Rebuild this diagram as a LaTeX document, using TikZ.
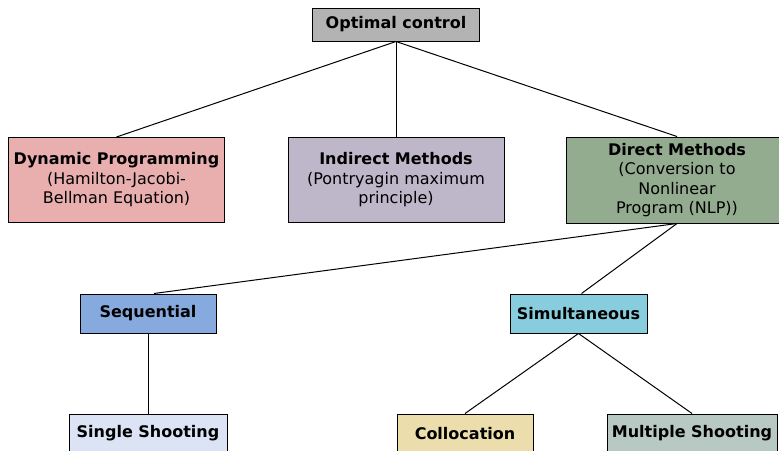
\documentclass[tikz,border=0pt]{standalone}
\usepackage{fontspec}
\setmainfont{DejaVu Sans}
\usetikzlibrary{calc}
\definecolor{rootgray}{HTML}{B3B3B3}
\definecolor{dpred}{HTML}{E9AFAF}
\definecolor{indlilac}{HTML}{BEB7CA}
\definecolor{dirgreen}{HTML}{93AC8F}
\definecolor{seqblue}{HTML}{87AADE}
\definecolor{simcyan}{HTML}{87CDDE}
\definecolor{ssblue}{HTML}{DBE3F4}
\definecolor{colbeige}{HTML}{EBDDAC}
\definecolor{msgray}{HTML}{B8C8C2}
\tikzset{
  treenode/.style={
    rectangle, draw=black, line width=1pt, inner sep=0pt,
    align=center, font=\fontsize{16}{19.5}\selectfont
  },
  bignode/.style={treenode, minimum width=216pt, minimum height=85pt},
  smallnode/.style={treenode, minimum width=136pt, minimum height=39pt},
  branch/.style={line width=1pt}
}

\begin{document}
\begin{tikzpicture}[x=1pt, y=-1pt]
    \useasboundingbox (0,0) rectangle (779,450);
    \clip (0,0) rectangle (779,450);
    % top level
    \node[treenode, fill=rootgray, minimum width=167pt, minimum height=33pt] (root) at (396,24.5) {\textbf{Optimal control}};
    \node[bignode, fill=dpred] (dp) at (116.5,180) {\textbf{Dynamic Programming}\\(Hamilton-Jacobi-\\Bellman Equation)};
    \node[bignode, fill=indlilac] (ind) at (396,180) {\textbf{Indirect Methods}\\(Pontryagin maximum\\principle)};
    \node[bignode, fill=dirgreen, minimum width=222pt, minimum height=86pt] (dir) at (677,180) {\textbf{Direct Methods}\\(Conversion to\\Nonlinear\\Program (NLP))};
    % direct methods
    \node[smallnode, fill=seqblue] (seq) at (148,313.5) {\textbf{Sequential}};
    \node[smallnode, fill=simcyan, minimum width=137pt] (sim) at (578.5,313.5) {\textbf{Simultaneous}};
    % leaves
    \node[smallnode, fill=ssblue, minimum width=158pt] (single) at (148,433.5) {\textbf{Single Shooting}};
    \node[smallnode, fill=colbeige] (coll) at (465,433.5) {\textbf{Collocation}};
    \node[smallnode, fill=msgray, minimum width=170pt] (mult) at (692,433.5) {\textbf{Multiple Shooting}};

    \draw[branch] (root.south) -- (dp.north);
    \draw[branch] (root.south) -- (ind.north);
    \draw[branch] (root.south) -- (dir.north);
    \draw[branch] (dir.south) -- ($(seq.north)+(6,0)$);
    \draw[branch] (dir.south) -- ($(sim.north)+(3,0)$);
    \draw[branch] (seq.south) -- (single.north);
    \draw[branch] (sim.south) -- (coll.north);
    \draw[branch] (sim.south) -- (mult.north);
\end{tikzpicture}
\end{document}
